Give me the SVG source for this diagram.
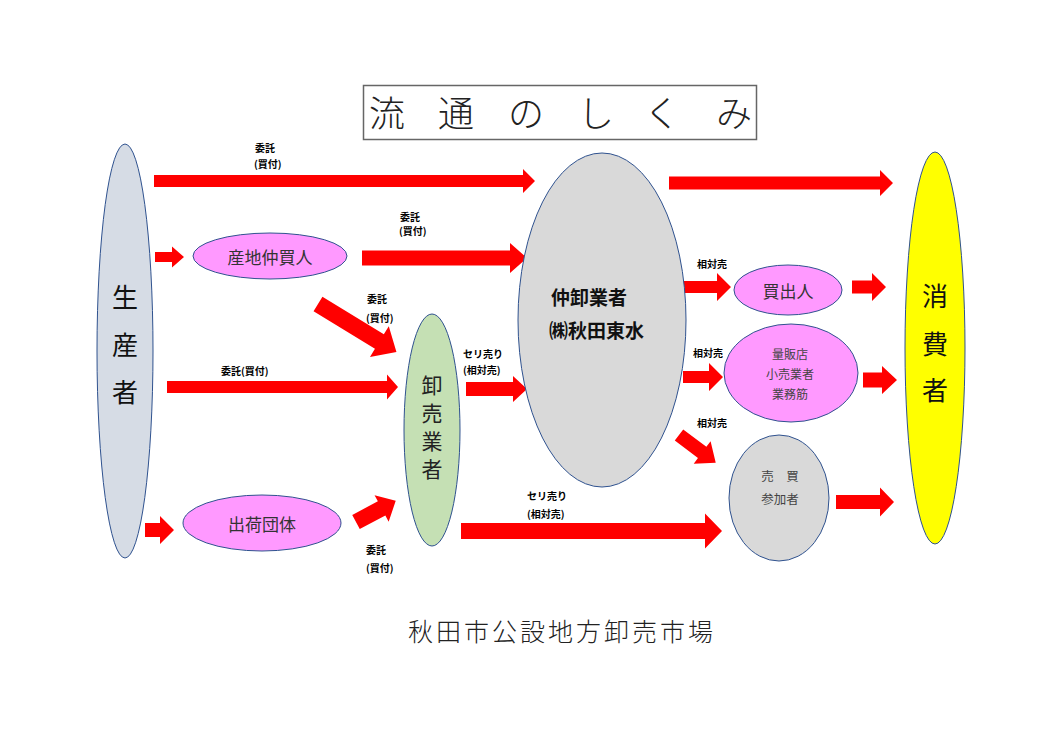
<svg xmlns="http://www.w3.org/2000/svg" width="1050" height="742" viewBox="0 0 1050 742">
<style>
.nd{stroke:#2F528F;stroke-width:1}
.ar{fill:#FF0000}
.t{font-family:"Noto Sans CJK JP","Noto Sans",sans-serif;dominant-baseline:central;text-anchor:middle}
.lb{font-family:"Noto Sans CJK JP","Noto Sans",sans-serif;font-weight:bold;font-size:10px;fill:#000;dominant-baseline:central}
.nt{fill:#333;font-size:17px}
.big{fill:#111;font-size:26px}
</style>
<rect width="1050" height="742" fill="#fff"/>
<g id="title">
<rect x="363.5" y="85.5" width="393" height="54" fill="#fff" stroke="#666" stroke-width="1.5"/>
<g class="t" font-size="36" fill="#222" font-weight="300">
<text x="387" y="111">流</text><text x="456" y="111">通</text><text x="526" y="111">の</text><text x="596" y="111">し</text><text x="662" y="111">く</text><text x="734" y="111">み</text>
</g>
</g>
<g id="connectors">
<polygon class="ar" points="154,175 523,175 523,169 535,181 523,193 523,187 154,187"/>
<polygon class="ar" points="669,176.5 880,176.5 880,170 893,183 880,196 880,189.5 669,189.5"/>
<polygon class="ar" points="155,252 172,252 172,246.5 184,257 172,267.5 172,262 155,262"/>
<polygon class="ar" points="362,250.5 510,250.5 510,243 527,258 510,273 510,265.5 362,265.5"/>
<polygon class="ar" points="167,381 387,381 387,374.5 398,387 387,399.5 387,393 167,393"/>
<polygon class="ar" points="145,523 160,523 160,516 174,530 160,544 160,537 145,537"/>
<polygon class="ar" points="466,382 513,382 513,376 527,389 513,402 513,396 466,396"/>
<polygon class="ar" points="461,523 705,523 705,513.5 722,531 705,548.5 705,539 461,539"/>
<polygon class="ar" points="683,281 717,281 717,273 731,287 717,301 717,293 683,293"/>
<polygon class="ar" points="852,280.5 872,280.5 872,273 886,287 872,301 872,293.5 852,293.5"/>
<polygon class="ar" points="683,371 709,371 709,363 723,377 709,391 709,383 683,383"/>
<polygon class="ar" points="863,372.5 882,372.5 882,366 897,380 882,394 882,387.5 863,387.5"/>
<polygon class="ar" points="836,495 880,495 880,487.5 894,502 880,516.5 880,509 836,509"/>
<polygon class="ar" transform="translate(318,304) rotate(31.5)" points="0,-8.5 72,-8.5 72,-18 92,0 72,18 72,8.5 0,8.5"/>
<polygon class="ar" transform="translate(356,522) rotate(-28)" points="0,-8 29,-8 29,-15 45,0 29,15 29,8 0,8"/>
<polygon class="ar" transform="translate(679,435) rotate(37)" points="0,-7 29,-7 29,-14 46,0 29,14 29,7 0,7"/>
</g>
<g id="labels">
<text class="lb" x="255" y="147">委託</text><text class="lb" x="254" y="163">(買付)</text>
<text class="lb" x="400" y="216">委託</text><text class="lb" x="399" y="230">(買付)</text>
<text class="lb" x="367" y="298">委託</text><text class="lb" x="366" y="317">(買付)</text>
<text class="lb" x="221" y="370" font-size="10.5">委託(買付)</text>
<text class="lb" x="463" y="353">セリ売り</text><text class="lb" x="463" y="369">(相対売)</text>
<text class="lb" x="527" y="495">セリ売り</text><text class="lb" x="527" y="513">(相対売)</text>
<text class="lb" x="366" y="549">委託</text><text class="lb" x="366" y="567">(買付)</text>
<text class="lb" x="697" y="263">相対売</text>
<text class="lb" x="693" y="352">相対売</text>
<text class="lb" x="697" y="422">相対売</text>
</g>
<g id="producer">
<ellipse class="nd" cx="125" cy="351" rx="28" ry="207" fill="#D6DCE5"/>
<g class="t big"><text x="125" y="295">生</text><text x="125" y="343">産</text><text x="125" y="390">者</text></g>
</g>
<g id="sanchi">
<ellipse class="nd" cx="270" cy="256" rx="77" ry="23" fill="#FF99FF"/>
<text class="t nt" x="270" y="256">産地仲買人</text>
</g>
<g id="shukka">
<ellipse class="nd" cx="262" cy="523" rx="79" ry="28" fill="#FF99FF"/>
<text class="t nt" x="262" y="523">出荷団体</text>
</g>
<g id="oroshi">
<ellipse class="nd" cx="432" cy="430" rx="28" ry="116" fill="#C5E0B4"/>
<g class="t" font-size="21" fill="#222"><text x="432" y="384">卸</text><text x="432" y="412">売</text><text x="432" y="440">業</text><text x="432" y="468">者</text></g>
</g>
<g id="nakaoroshi">
<ellipse class="nd" cx="602" cy="320" rx="84" ry="167" fill="#D9D9D9"/>
<text class="t" x="551" y="296" font-size="19" font-weight="bold" fill="#111" text-anchor="start" style="text-anchor:start">仲卸業者</text>
<text class="t" x="549" y="329" font-size="19" font-weight="bold" fill="#111" style="text-anchor:start">㈱秋田東水</text>
</g>
<g id="kaidashi">
<ellipse class="nd" cx="788" cy="290" rx="54" ry="25" fill="#FF99FF"/>
<text class="t nt" x="788" y="290">買出人</text>
</g>
<g id="ryohan">
<ellipse class="nd" cx="791" cy="373" rx="67" ry="49" fill="#FF99FF"/>
<g class="t" font-size="12" fill="#444"><text x="790" y="353">量販店</text><text x="790" y="373">小売業者</text><text x="790" y="393">業務筋</text></g>
</g>
<g id="baibai">
<ellipse class="nd" cx="779" cy="498" rx="50" ry="63" fill="#D9D9D9"/>
<g class="t" font-size="12.5" fill="#444"><text x="780" y="475">売　買</text><text x="780" y="498">参加者</text></g>
</g>
<g id="consumer">
<ellipse class="nd" cx="935" cy="348" rx="30" ry="196" fill="#FFFF00"/>
<g class="t big"><text x="935" y="294">消</text><text x="935" y="342">費</text><text x="935" y="388">者</text></g>
</g>
<g id="footer">
<text x="408" y="630" font-family="'Noto Sans CJK JP','Noto Sans',sans-serif" font-size="25" font-weight="300" fill="#222" dominant-baseline="central" textLength="305" lengthAdjust="spacing">秋田市公設地方卸売市場</text>
</g>
</svg>
